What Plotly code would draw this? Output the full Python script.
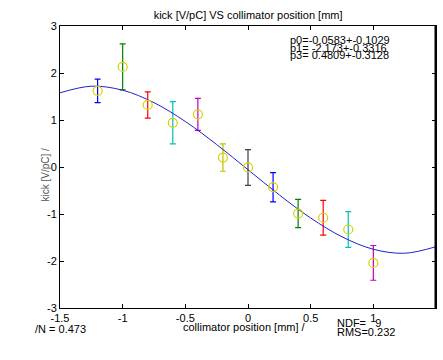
import plotly.graph_objects as go

# measured data
x_pos = [-1.2, -1.0, -0.8, -0.6, -0.4, -0.2, 0.0, 0.2, 0.4, 0.6, 0.8, 1.0]
kick = [1.62, 2.13, 1.32, 0.94, 1.12, 0.20, -0.01, -0.43, -0.99, -1.08, -1.33, -2.04]
kick_err = [0.25, 0.49, 0.28, 0.45, 0.34, 0.29, 0.38, 0.31, 0.30, 0.37, 0.38, 0.37]
bar_colors = ["#0000ff", "#008000", "#ff0000", "#00bfbf", "#bf00bf", "#bfbf00", "#404040",
              "#0000ff", "#008000", "#ff0000", "#00bfbf", "#bf00bf"]

# fit curve
fit_x = [-1.5, -1.25, -1.0, -0.75, -0.5, -0.25, 0.0, 0.25, 0.5, 0.75, 1.0, 1.25, 1.5]
fit_y = [1.578, 1.719, 1.634, 1.369, 0.968, 0.478, -0.058, -0.594, -1.085, -1.485, -1.750, -1.835, -1.695]

x_ticks = [-1.5, -1, -0.5, 0, 0.5, 1, 1.5]
x_tick_text = ["-1.5", "-1", "-0.5", "0", "0.5", "1", "1.5"]
y_ticks = [-3, -2, -1, 0, 1, 2, 3]
y_tick_text = ["-3", "-2", "-1", "0", "1", "2", "3"]

fit_text = ["p0=-0.0583+-0.1029", "p1= -2.173+-0.3316", "p3= 0.4809+-0.3128"]

FONT = "Liberation Sans, Arial, sans-serif"
PW = 443 - 60 - 7

fig = go.Figure()

for xv, yv, ev, c in zip(x_pos, kick, kick_err, bar_colors):
    fig.add_trace(go.Scatter(
        x=[xv], y=[yv], mode="markers",
        marker=dict(size=1, color="rgba(0,0,0,0)"),
        error_y=dict(type="data", array=[ev], color=c, thickness=1.2, width=3),
        showlegend=False, hoverinfo="skip"))

fig.add_trace(go.Scatter(
    x=fit_x, y=fit_y, mode="lines", line=dict(color="#2020d0", width=1, shape="spline"),
    showlegend=False))

fig.add_trace(go.Scatter(
    x=x_pos, y=kick, mode="markers",
    marker=dict(symbol="circle-open", size=9, color="#d8d000", line=dict(width=1.2)),
    showlegend=False))

axis_common = dict(ticks="inside", ticklen=4, tickcolor="black", showline=True,
                   linecolor="black", linewidth=1, mirror="allticks", showgrid=False,
                   zeroline=False, tickfont=dict(size=11, family=FONT))

fig.update_layout(
    width=443, height=360,
    margin=dict(l=60, r=7, t=26, b=52),
    paper_bgcolor="white", plot_bgcolor="white",
    font=dict(family=FONT, size=11, color="black"),
    title=dict(text="kick [V/pC] VS collimator position [mm]", x=0.56, xanchor="center",
               y=1 - 15 / 360, yanchor="middle", font=dict(size=11, family=FONT)),
    xaxis=dict(range=[-1.5, 1.5], tickmode="array", tickvals=x_ticks, ticktext=x_tick_text,
               **axis_common),
    yaxis=dict(range=[-3, 3], tickmode="array", tickvals=y_ticks, ticktext=y_tick_text,
               **axis_common),
    shapes=[dict(type="line", xref="paper", yref="paper", x0=0.998, x1=0.998, y0=0, y1=1,
                 line=dict(color="black", width=1.5), layer="above")],
)

for i, t in enumerate(fit_text):
    fig.add_annotation(text=t, xref="paper", yref="paper", x=(288 - 60) / PW,
                       y=(360 - 52 - (40 + 7.5 * i)) / 282, xanchor="left", yanchor="middle",
                       showarrow=False, font=dict(size=11, family=FONT))

fig.add_annotation(text="kick [V/pC] /", xref="paper", yref="paper", x=(37 - 60) / PW,
                   y=(308 - 175) / 282, textangle=-90, showarrow=False,
                   font=dict(size=10, family=FONT, color="#555555"))
fig.add_annotation(text="/N = 0.473", xref="paper", yref="paper", x=(33 - 60) / PW,
                   y=(308 - 329) / 282, xanchor="left", yanchor="middle", showarrow=False,
                   font=dict(size=11, family=FONT))
fig.add_annotation(text="collimator position [mm] /", xref="paper", yref="paper",
                   x=(181 - 60) / PW, y=(308 - 327) / 282, xanchor="left", yanchor="middle",
                   showarrow=False, font=dict(size=11, family=FONT))
fig.add_annotation(text="NDF=   9", xref="paper", yref="paper", x=(335 - 60) / PW,
                   y=(308 - 323) / 282, xanchor="left", yanchor="middle", showarrow=False,
                   font=dict(size=11, family=FONT))
fig.add_annotation(text="RMS=0.232", xref="paper", yref="paper", x=(335 - 60) / PW,
                   y=(308 - 332) / 282, xanchor="left", yanchor="middle", showarrow=False,
                   font=dict(size=11, family=FONT))

fig.write_html("out.html", config={"displayModeBar": False},
               post_script="document.body.style.margin='0px';document.body.style.overflow='hidden';")
